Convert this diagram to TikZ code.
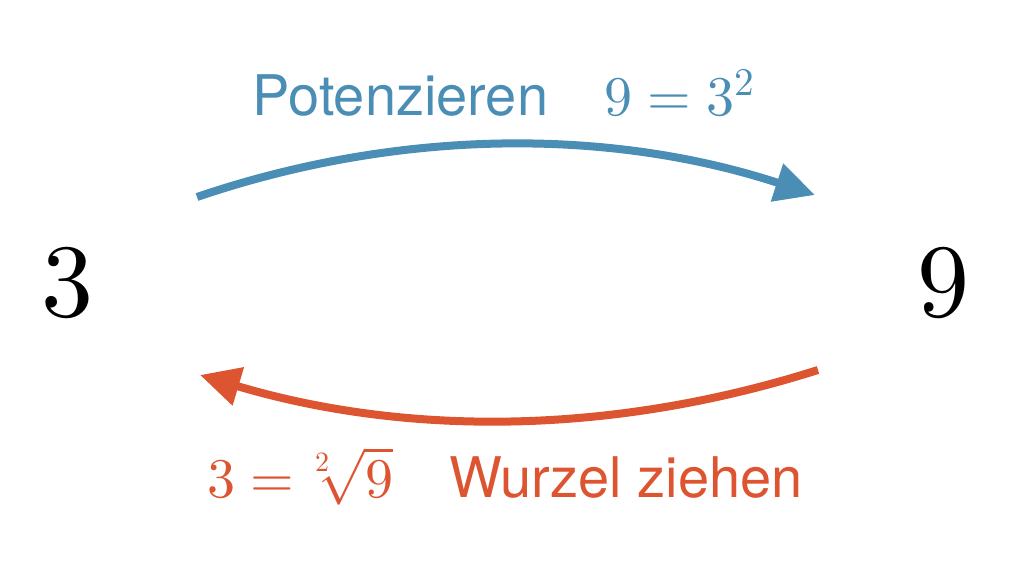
\documentclass[tikz,border=0pt]{standalone}
\usepackage{fontspec}
\usepackage{unicode-math}
\setmainfont{TeX Gyre Heros}
\setmathfont{Latin Modern Math}
\usetikzlibrary{arrows.meta}
\definecolor{potblue}{RGB}{74,141,181}
\definecolor{wurzred}{RGB}{220,85,48}
\tikzset{
  bignum/.style={inner sep=0pt, font=\fontsize{52}{60}\selectfont},
  lbl/.style={inner sep=0pt, font=\fontsize{28}{34}\selectfont},
  bow/.style={line width=4pt, -{Triangle[length=20pt,width=19pt]}}
}
\begin{document}
\begin{tikzpicture}[x=0.5pt,y=-0.5pt]
  \useasboundingbox (0,0) rectangle (1024,565);
  \node[bignum] (drei) at (67,283) {$3$};
  \node[bignum] (neun) at (943,283) {$9$};
  \coordinate (b1) at (197,197);
  \coordinate (b2) at (815,195);
  \coordinate (r1) at (818,370);
  \coordinate (r2) at (200,375);
  \draw[bow,potblue] (b1) .. controls (400,128) and (610,128) .. (b2);
  \draw[bow,wurzred] (r1) .. controls (610,436) and (405,436) .. (r2);
  \node[lbl,text=potblue,anchor=base] (pot) at (504,116) {Potenzieren\quad$9=3^2$};
  \node[lbl,text=wurzred,anchor=base] (wur) at (505,498) {$3=\sqrt[2]{9}$\quad Wurzel ziehen};
\end{tikzpicture}
\end{document}
